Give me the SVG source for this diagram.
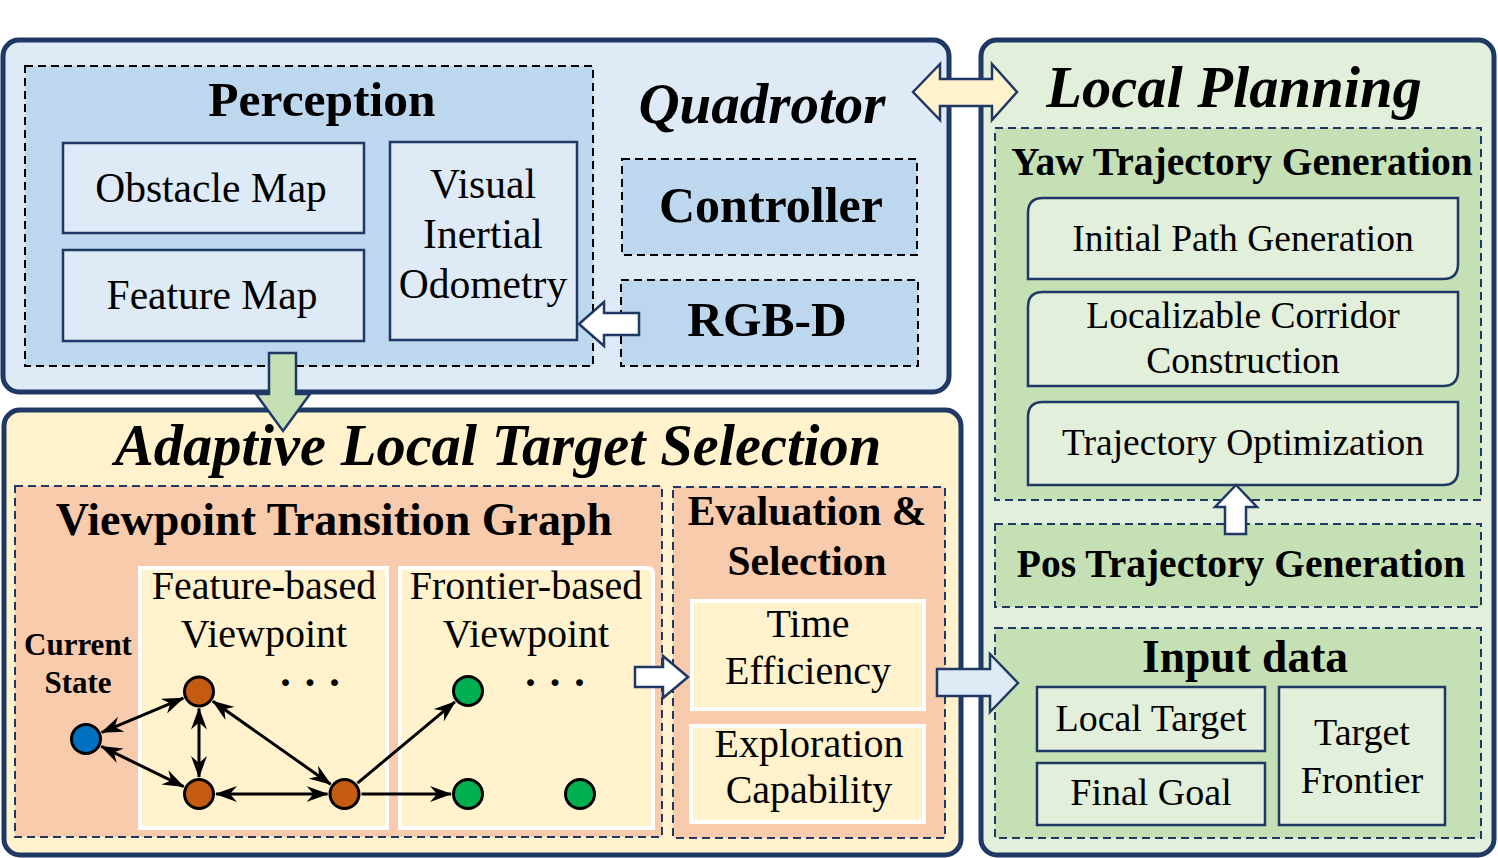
<svg xmlns="http://www.w3.org/2000/svg" width="1498" height="858" viewBox="0 0 1498 858">
<style>
text{font-family:"Liberation Serif","Times New Roman",serif;fill:#000;text-anchor:middle}
.b{font-weight:bold}
.bi{font-weight:bold;font-style:italic}
.outer{stroke:#1f3864;stroke-width:5}
.dk{fill:none;stroke:#000;stroke-width:2;stroke-dasharray:8,5}
.dn{stroke:#1f3864;stroke-width:2;stroke-dasharray:8,5}
.box{stroke:#1f3864;stroke-width:2.5}
.wb{fill:#fff2cc;stroke:#fff;stroke-width:4}
.edge{stroke:#000;stroke-width:3;fill:none}
.node{stroke:#000;stroke-width:3}
.bar{stroke:#1f3864;stroke-width:2.5;stroke-linejoin:miter}
</style>
<defs>
<marker id="ah" viewBox="0 0 22 16" refX="21" refY="8" markerWidth="22" markerHeight="16" markerUnits="userSpaceOnUse" orient="auto-start-reverse">
<path d="M0,0 L22,8 L0,16 L7,8 z" fill="#000"/>
</marker>
</defs>
<rect width="1498" height="858" fill="#fff"/>

<g id="quadrotor">
<rect class="outer" x="3" y="40" width="946" height="352" rx="16" fill="#deeaf6"/>
<text class="bi" x="762" y="123" font-size="57">Quadrotor</text>
</g>
<g id="perception">
<rect x="25" y="66" width="568" height="300" fill="#bdd7ee"/>
<rect class="dk" x="25" y="66" width="568" height="300"/>
<text class="b" x="322" y="116" font-size="49.5">Perception</text>
</g>
<g id="obstacle-map">
<rect class="box" x="63" y="143" width="301" height="90" fill="#deeaf6"/>
<text x="211" y="202" font-size="41.5">Obstacle Map</text>
</g>
<g id="feature-map">
<rect class="box" x="63" y="250" width="301" height="91" fill="#deeaf6"/>
<text x="212" y="309" font-size="41.5">Feature Map</text>
</g>
<g id="vio">
<rect class="box" x="390" y="142" width="187" height="198" fill="#deeaf6"/>
<text x="483" y="198" font-size="41.5">Visual</text>
<text x="483" y="248" font-size="41.5">Inertial</text>
<text x="483" y="298" font-size="41.5">Odometry</text>
</g>
<g id="controller">
<rect x="622" y="159" width="295" height="96" fill="#bdd7ee"/>
<rect class="dk" x="622" y="159" width="295" height="96"/>
<text class="b" x="771" y="222" font-size="50">Controller</text>
</g>
<g id="rgbd">
<rect x="621" y="280" width="297" height="86" fill="#bdd7ee"/>
<rect class="dk" x="621" y="280" width="297" height="86"/>
<text class="b" x="767" y="336" font-size="49.5">RGB-D</text>
</g>

<g id="local-planning">
<rect class="outer" x="981" y="40" width="513" height="815" rx="16" fill="#e2efda"/>
<text class="bi" x="1234" y="107" font-size="58.5">Local Planning</text>
</g>
<g id="yaw">
<rect class="dn" x="995" y="128" width="486" height="372" fill="#c5e0b4"/>
<text class="b" x="1242" y="175" font-size="39.5">Yaw Trajectory Generation</text>
</g>
<g id="initial-path">
<path class="box" d="M1043,198 H1458 V264 Q1458,279 1443,279 H1028 V213 Q1028,198 1043,198 Z" fill="#e2efda"/>
<text x="1243" y="251" font-size="37.5">Initial Path Generation</text>
</g>
<g id="corridor">
<path class="box" d="M1043,292 H1458 V371 Q1458,386 1443,386 H1028 V307 Q1028,292 1043,292 Z" fill="#e2efda"/>
<text x="1243" y="328" font-size="37.5">Localizable Corridor</text>
<text x="1243" y="373" font-size="37.5">Construction</text>
</g>
<g id="traj-opt">
<path class="box" d="M1043,402 H1458 V470 Q1458,485 1443,485 H1028 V417 Q1028,402 1043,402 Z" fill="#e2efda"/>
<text x="1243" y="455" font-size="37.5">Trajectory Optimization</text>
</g>
<g id="pos">
<rect class="dn" x="995" y="524" width="486" height="83" fill="#c5e0b4"/>
<text class="b" x="1241" y="577" font-size="39.5">Pos Trajectory Generation</text>
</g>
<g id="input-data">
<rect class="dn" x="995" y="628" width="486" height="210" fill="#c5e0b4"/>
<text class="b" x="1245" y="672" font-size="45.5">Input data</text>
</g>
<g id="local-target">
<rect class="box" x="1037" y="687" width="228" height="64" fill="#e2efda"/>
<text x="1151" y="731" font-size="38">Local Target</text>
</g>
<g id="final-goal">
<rect class="box" x="1037" y="763" width="228" height="62" fill="#e2efda"/>
<text x="1151" y="805" font-size="38">Final Goal</text>
</g>
<g id="target-frontier">
<rect class="box" x="1279" y="687" width="166" height="138" fill="#e2efda"/>
<text x="1362" y="745" font-size="38">Target</text>
<text x="1362" y="793" font-size="38">Frontier</text>
</g>

<g id="alts">
<rect class="outer" x="4" y="410" width="957" height="445" rx="16" fill="#fff2cc"/>
<text class="bi" x="498" y="465" font-size="58.5">Adaptive Local Target Selection</text>
</g>
<g id="vtg">
<rect class="dn" x="15" y="486" width="647" height="351" fill="#f8cbad"/>
<text class="b" x="334" y="535" font-size="46">Viewpoint Transition Graph</text>
<text class="b" x="78" y="655" font-size="31">Current</text>
<text class="b" x="78" y="693" font-size="31">State</text>
</g>
<g id="feature-based">
<rect class="wb" x="140" y="568" width="247" height="260"/>
<text x="264" y="599" font-size="40">Feature-based</text>
<text x="264" y="647" font-size="40">Viewpoint</text>
<text class="b" x="310" y="697" font-size="42">· · ·</text>
</g>
<g id="frontier-based">
<path class="wb" d="M400,568 H647 Q653,568 653,574 V828 H400 Z"/>
<text x="526" y="599" font-size="40">Frontier-based</text>
<text x="526" y="647" font-size="40">Viewpoint</text>
<text class="b" x="555" y="697" font-size="42">· · ·</text>
</g>
<g id="eval">
<rect class="dn" x="673" y="487" width="272" height="351" fill="#f8cbad"/>
<text class="b" x="807" y="525" font-size="41.5">Evaluation &amp;</text>
<text class="b" x="807" y="575" font-size="41.5">Selection</text>
</g>
<g id="time-eff">
<rect class="wb" x="692" y="601" width="232" height="108" stroke-width="3"/>
<text x="808" y="637" font-size="40">Time</text>
<text x="808" y="684" font-size="40">Efficiency</text>
</g>
<g id="expl-cap">
<rect class="wb" x="691" y="726" width="233" height="96" stroke-width="3"/>
<text x="809" y="757" font-size="40">Exploration</text>
<text x="809" y="803" font-size="40">Capability</text>
</g>

<g id="connectors">
<path class="bar" d="M639,313 H604 V302 L579,324 L604,346 V335 H639 Z" fill="#fff"/>
<path class="bar" d="M913,92 L940,64 V79 H992 V64 L1017,92 L992,120 V106 H940 V120 Z" fill="#fff2cc"/>
<path class="bar" d="M269,353 H296 V394 H310 L283,431 L256,394 H269 Z" fill="#c5e0b4"/>
<path class="bar" d="M635,667 H663 V656 L688,677 L663,698 V687 H635 Z" fill="#fff"/>
<path class="bar" d="M937,669 H990 V654 L1018,683 L990,712 V696 H937 Z" fill="#deeaf6"/>
<path class="bar" d="M1225,534 V507 H1215 L1236,485 L1257,507 H1246 V534 Z" fill="#fff"/>
<line class="edge" x1="101.7" y1="732.4" x2="183.3" y2="698.1" marker-start="url(#ah)" marker-end="url(#ah)"/>
<line class="edge" x1="101.3" y1="746.4" x2="183.7" y2="786.6" marker-start="url(#ah)" marker-end="url(#ah)"/>
<line class="edge" x1="199" y1="708.5" x2="199" y2="777" marker-start="url(#ah)" marker-end="url(#ah)"/>
<line class="edge" x1="212.9" y1="701.3" x2="330.6" y2="784.2" marker-start="url(#ah)" marker-end="url(#ah)"/>
<line class="edge" x1="216" y1="794" x2="327.5" y2="794" marker-start="url(#ah)" marker-end="url(#ah)"/>
<line class="edge" x1="357.5" y1="783.1" x2="454.9" y2="701.9" marker-end="url(#ah)"/>
<line class="edge" x1="361.5" y1="794" x2="451" y2="794" marker-end="url(#ah)"/>
</g>
<g id="nodes">
<circle class="node" cx="86" cy="739" r="14.5" fill="#0070c0"/>
<circle class="node" cx="199" cy="691.5" r="14.5" fill="#c55a11"/>
<circle class="node" cx="199" cy="794" r="14.5" fill="#c55a11"/>
<circle class="node" cx="344.5" cy="794" r="14.5" fill="#c55a11"/>
<circle class="node" cx="468" cy="691" r="14.5" fill="#00b050"/>
<circle class="node" cx="468" cy="794" r="14.5" fill="#00b050"/>
<circle class="node" cx="580" cy="794" r="14.5" fill="#00b050"/>
</g>
</svg>
